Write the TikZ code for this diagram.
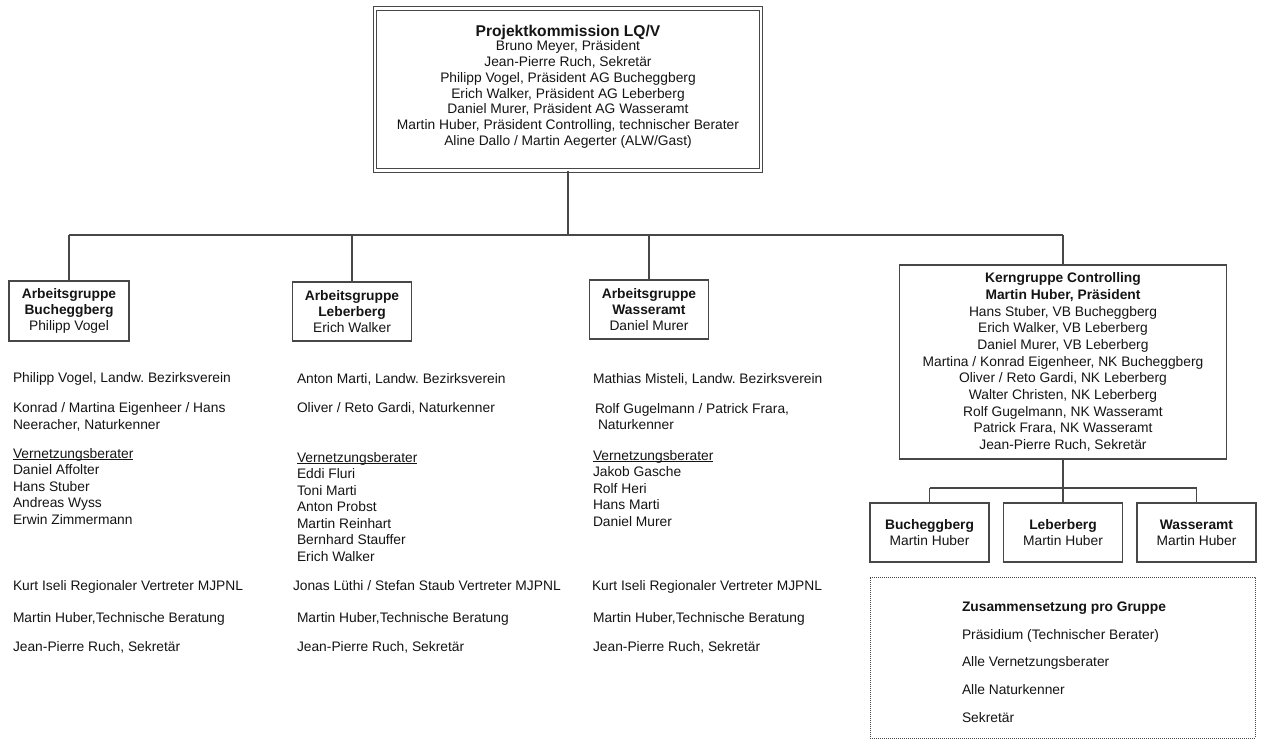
\documentclass[tikz,border=0pt]{standalone}
\usepackage{fontspec}
\setmainfont{Liberation Sans}
\definecolor{linec}{HTML}{474747}
\definecolor{txtc}{HTML}{141414}
\begin{document}
\frenchspacing
\begin{tikzpicture}[x=1bp,y=-1bp,
  every node/.style={inner sep=0pt, outer sep=0pt, text=txtc},
  fs/.style={font=\fontsize{13.8bp}{16.5bp}\selectfont\frenchspacing},
  agbox/.style={draw=linec, line width=1.3bp, fs, align=center,
    font=\fontsize{13.8bp}{16bp}\selectfont},
  conn/.style={draw=linec, line width=1.3bp},
  ulc/.style={draw=txtc, line width=0.8bp},
  lt/.style={fs, anchor=base west},
  ct/.style={fs, anchor=base}]
\useasboundingbox (0,0) rectangle (1264,740);
% top box
\node[draw=linec, double, double distance=2.4bp, line width=1.1bp,
      minimum width=386bp, minimum height=162bp] (pk) at (568,89.5) {};
\node[ct, font=\fontsize{15.6bp}{16bp}\selectfont\bfseries] (pkt) at (568,37) {Projektkommission LQ/V};
\foreach \t [count=\i] in {{Bruno Meyer, Präsident},{Jean-Pierre Ruch, Sekretär},
  {Philipp Vogel, Präsident AG Bucheggberg},{Erich Walker, Präsident AG Leberberg},
  {Daniel Murer, Präsident AG Wasseramt},
  {Martin Huber, Präsident Controlling, technischer Berater},
  {Aline Dallo / Martin Aegerter (ALW/Gast)}}
  \node[ct] (pk\i) at (568,{51+(\i-1)*15.7}) {\t};
% junctions
\coordinate (j0) at (568,235);
\coordinate (j1) at (69,235);
\coordinate (j2) at (352,235);
\coordinate (j3) at (649,235);
\coordinate (j4) at (1063,235);
% group boxes
\node[agbox, minimum width=120bp, minimum height=60bp] (agb) at (69,311)
  {\textbf{Arbeitsgruppe}\\\textbf{Bucheggberg}\\Philipp Vogel};
\node[agbox, minimum width=119bp, minimum height=59bp] (agl) at (352,311.5)
  {\textbf{Arbeitsgruppe}\\\textbf{Leberberg}\\Erich Walker};
\node[agbox, minimum width=119bp, minimum height=59bp] (agw) at (649,309.5)
  {\textbf{Arbeitsgruppe}\\\textbf{Wasseramt}\\Daniel Murer};
\node[agbox, minimum width=327bp, minimum height=194bp,
      font=\fontsize{13.8bp}{16.7bp}\selectfont] (kg) at (1063,362)
  {\textbf{Kerngruppe Controlling}\\\textbf{Martin Huber, Präsident}\\
   Hans Stuber, VB Bucheggberg\\Erich Walker, VB Leberberg\\
   Daniel Murer, VB Leberberg\\Martina / Konrad Eigenheer, NK Bucheggberg\\
   Oliver / Reto Gardi, NK Leberberg\\Walter Christen, NK Leberberg\\
   Rolf Gugelmann, NK Wasseramt\\Patrick Frara, NK Wasseramt\\
   Jean-Pierre Ruch, Sekretär};
% connectors top
\draw[conn] (pk.south) -- (j0);
\draw[conn] (j1) -- (j4);
\draw[conn] (j1) -- (agb.north);
\draw[conn] (j2) -- (agl.north);
\draw[conn] (j3) -- (agw.north);
\draw[conn] (j4) -- (kg.north);
% sub boxes
\node[agbox, minimum width=119bp, minimum height=59bp] (sb) at (929.5,532.5)
  {\textbf{Bucheggberg}\\Martin Huber};
\node[agbox, minimum width=119bp, minimum height=59bp] (sl) at (1063,532.5)
  {\textbf{Leberberg}\\Martin Huber};
\node[agbox, minimum width=119bp, minimum height=59bp] (sw) at (1196.5,532.5)
  {\textbf{Wasseramt}\\Martin Huber};
\coordinate (k0) at (1063,488);
\coordinate (k1) at (929.5,488);
\coordinate (k2) at (1196.5,488);
\draw[conn] (kg.south) -- (sl.north);
\draw[conn] (k1) -- (k2);
\draw[conn] (k1) -- (sb.north);
\draw[conn] (k2) -- (sw.north);
% dotted box
\node[draw=linec, line width=1bp, dash pattern=on 1bp off 1bp,
      minimum width=385bp, minimum height=161bp] (zs) at (1062.5,657.5) {};
\node[lt, font=\fontsize{13.8bp}{16.5bp}\selectfont\bfseries] (zs1) at (962,611) {Zusammensetzung pro Gruppe};
\node[lt] (zs2) at (962,639) {Präsidium (Technischer Berater)};
\node[lt] (zs3) at (962,666) {Alle Vernetzungsberater};
\node[lt] (zs4) at (962,694) {Alle Naturkenner};
\node[lt] (zs5) at (962,722) {Sekretär};
% left column
\node[lt] (a1) at (13,382) {Philipp Vogel, Landw. Bezirksverein};
\node[lt] (a2) at (13,412) {Konrad / Martina Eigenheer / Hans};
\node[lt] (a3) at (13,429) {Neeracher, Naturkenner};
\foreach \t [count=\i] in {{Vernetzungsberater},{Daniel Affolter},{Hans Stuber},
  {Andreas Wyss},{Erwin Zimmermann}}
  \node[lt] (av\i) at (13,{458+(\i-1)*16.5}) {\t};
\draw[ulc] ([yshift=-1.8bp]av1.base west) -- ([yshift=-1.8bp]av1.base east);
\node[lt] (a4) at (13,590) {Kurt Iseli Regionaler Vertreter MJPNL};
\node[lt] (a5) at (13,622) {Martin Huber,Technische Beratung};
\node[lt] (a6) at (13,651) {Jean-Pierre Ruch, Sekretär};
% middle column
\node[lt] (b1) at (297,383) {Anton Marti, Landw. Bezirksverein};
\node[lt] (b2) at (297,412) {Oliver / Reto Gardi, Naturkenner};
\foreach \t [count=\i] in {{Vernetzungsberater},{Eddi Fluri},{Toni Marti},
  {Anton Probst},{Martin Reinhart},{Bernhard Stauffer},{Erich Walker}}
  \node[lt] (bv\i) at (297,{462+(\i-1)*16.5}) {\t};
\draw[ulc] ([yshift=-1.8bp]bv1.base west) -- ([yshift=-1.8bp]bv1.base east);
\node[lt] (b4) at (293,590) {Jonas Lüthi / Stefan Staub Vertreter MJPNL};
\node[lt] (b5) at (297,622) {Martin Huber,Technische Beratung};
\node[lt] (b6) at (297,651) {Jean-Pierre Ruch, Sekretär};
% right column
\node[lt] (c1) at (593,383) {Mathias Misteli, Landw. Bezirksverein};
\node[lt] (c2) at (595,413) {Rolf Gugelmann / Patrick Frara,};
\node[lt] (c3) at (598,429) {Naturkenner};
\foreach \t [count=\i] in {{Vernetzungsberater},{Jakob Gasche},{Rolf Heri},
  {Hans Marti},{Daniel Murer}}
  \node[lt] (cv\i) at (593,{460+(\i-1)*16.5}) {\t};
\draw[ulc] ([yshift=-1.8bp]cv1.base west) -- ([yshift=-1.8bp]cv1.base east);
\node[lt] (c4) at (592,590) {Kurt Iseli Regionaler Vertreter MJPNL};
\node[lt] (c5) at (593,622) {Martin Huber,Technische Beratung};
\node[lt] (c6) at (593,651) {Jean-Pierre Ruch, Sekretär};
\end{tikzpicture}
\end{document}
